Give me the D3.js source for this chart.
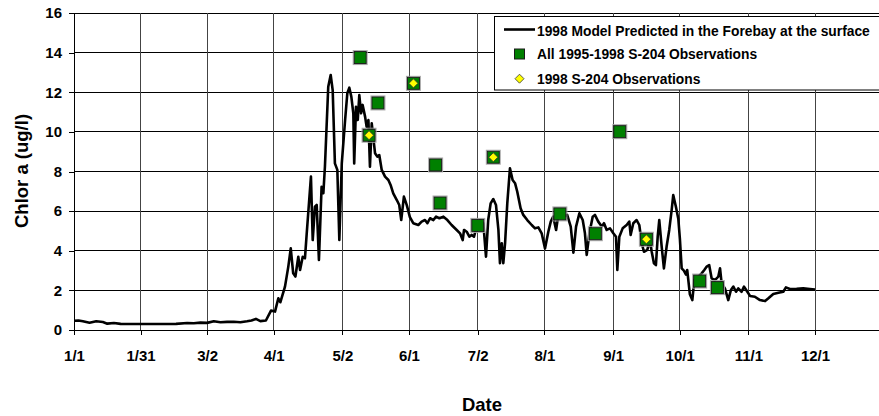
<!DOCTYPE html>
<html>
<head>
<meta charset="utf-8">
<script src="https://cdn.jsdelivr.net/npm/d3@7"></script>
<style>
  body { margin: 0; background: #fff; }
  svg { display: block; font-family: Arial, "Liberation Sans", sans-serif; font-weight: bold; }
</style>
</head>
<body>
<svg id="chart"></svg>
<script>
// model series: day counted from 1/1/1998 (day 0), chlor a in ug/l
const modelDay = [0, 2, 4, 7, 10, 13, 15, 18, 21, 26, 31, 36, 41, 46, 51, 54, 57, 60, 63, 66, 69, 72, 75, 78, 80, 82, 84, 86.5,
  88.8, 90.6, 92.1, 93, 95.1, 96.6, 97.7, 98.8, 99.8, 101.1, 101.9, 103.1, 104.1, 104.9, 106.8, 107.6, 108.6, 109.4, 110.4,
  111.6, 112.4, 113.1, 114.6, 115.7, 116.6, 117.6, 118.7, 119.6, 120.7, 122.2, 123.2, 124.1, 125, 125.9, 126.3, 127.1, 127.9,
  128.6, 129.4, 130.1, 131.2, 131.9, 132.7, 133.4, 134.2, 135.7, 136.7, 137.6, 138.7, 140.2, 141.7, 142.7, 143.9, 145.5,
  146.6, 147.5, 148.7, 150, 151.4, 152.9, 155.2, 156.7, 158.2, 159.3, 160.5, 162, 163.2, 164.7, 166.5, 168.3, 170.2, 172.5,
  174, 175.2, 175.8, 177, 178.2, 179.3, 180.3, 181.5, 183, 184.5, 185.7, 186.7, 187.8, 189, 190.2, 191.3, 192, 192.8, 193.5,
  194.3, 195.3, 196.5, 197.7, 198.8, 199.8, 201.3, 202.5, 204.3, 206.3, 207.8, 209.3, 210.8, 212.3, 213.8, 214.9, 216, 217.3,
  218.3, 220.6, 222.3, 223.9, 225.1, 226.3, 227.8, 229.3, 230.3, 231.1, 232.3, 233.8, 234.8, 236.3, 237.9, 238.9, 240.1,
  241.6, 243.1, 244.3, 244.9, 245.8, 247.3, 249.1, 250.3, 250.9, 252.1, 253.6, 254.8, 255.9, 256.9, 258.4, 259.6, 260.4,
  261.4, 262.3, 263.1, 263.8, 264.9, 265.9, 267.1, 268.3, 269.4, 270.1, 271.3, 272.4, 273.1, 273.9, 274.9, 275.8, 276.4,
  277.6, 278.7, 279.6, 281.4, 282.9, 284.1, 285.2, 286.3, 287.4, 288.9, 290.4, 291.2, 291.9, 293.4, 294.9, 296.1, 297.2,
  298.4, 299.4, 300.9, 302, 303.5, 304.7, 306.9, 309.2, 311.5, 313, 315.2, 317.5, 319.7, 320.9, 322.7, 325.7, 328.7, 331.7, 334];
const modelChl = [0.47, 0.48, 0.44, 0.37, 0.44, 0.40, 0.32, 0.35, 0.31, 0.30, 0.30, 0.30, 0.30, 0.31, 0.35, 0.34, 0.37, 0.36,
  0.44, 0.39, 0.41, 0.42, 0.39, 0.44, 0.48, 0.56, 0.45, 0.48,
  0.98, 0.93, 1.6, 1.4, 2.19, 3.2, 4.12, 2.86, 2.7, 3.7, 3.03, 3.7, 3.62, 4.88, 7.74, 4.54, 6.22, 6.31, 3.53,
  7.23, 6.9, 8.24, 12.28, 12.87, 12.11, 8.41, 8.08, 4.54, 8.41, 10.6, 11.95, 12.23, 11.78, 10.94, 8.41, 11.27, 10.6,
  11.86, 10.94, 11.36, 10.77, 10.26, 10.6, 8.24, 10.43, 8.92, 8.75, 8.83, 8.08, 7.74, 7.57, 7.32, 6.9, 6.56,
  6.31, 5.55, 6.73, 6.3, 5.7, 5.39, 5.3, 5.47, 5.55, 5.39, 5.64, 5.55, 5.72, 5.64, 5.72, 5.55, 5.3, 5.05,
  4.88, 4.54, 5.05, 4.96, 4.71, 4.8, 4.71, 5.22, 5.55, 5.39, 3.7, 5.55, 6.39, 6.61, 6.31, 5.05, 3.37, 4.38, 3.37,
  4.38, 6.39, 8.16, 7.57, 7.41, 6.98, 6.14, 5.81, 5.55, 5.3, 5.13, 5.18, 4.88, 4.12, 4.96, 5.47, 5.72, 5.05,
  5.81, 5.72, 5.81, 5.22, 3.9, 5.22, 5.89, 5.55, 4.88, 3.79, 4.88, 5.72, 5.81, 5.47, 5.22, 5.39, 5.05,
  5.13, 4.88, 4.71, 3.03, 4.71, 5.13, 5.3, 5.47, 4.8, 5.39, 5.55, 5.3, 4.38, 3.95, 4.04, 4.54, 3.95,
  3.37, 3.28, 4.71, 5.55, 4.2, 3.11, 4.2, 5.05, 6.06, 6.81, 6.22, 5.6, 4.6, 3.11, 3.0, 2.8, 3.03,
  1.8, 1.51, 2.52, 2.69, 2.86, 3.03, 3.2, 3.28, 2.61, 2.52, 2.69, 3.11, 2.36, 2.1, 1.51, 2.02, 2.19,
  1.93, 2.1, 1.93, 2.19, 1.93, 1.72, 1.68, 1.51, 1.46, 1.6, 1.82, 1.88, 1.93, 2.15, 2.07, 2.08, 2.1, 2.07, 2.04];

// all 1995-1998 S-204 observations (plotted on the 1998 calendar)
const obsDates = ["1998-05-10", "1998-05-14", "1998-05-18", "1998-06-03", "1998-06-13", "1998-06-15", "1998-07-02",
  "1998-07-09", "1998-08-08", "1998-08-24", "1998-09-04", "1998-09-16", "1998-10-10", "1998-10-18"];
const obsChl = [13.75, 9.83, 11.46, 12.45, 8.33, 6.41, 5.28, 8.72, 5.86, 4.86, 10.01, 4.58, 2.47, 2.14];

// 1998 S-204 observations
const obs98Dates = ["1998-05-14", "1998-06-03", "1998-07-09", "1998-09-16"];
const obs98Chl = [9.83, 12.45, 8.72, 4.58];

const tickDates = ["1998-01-01", "1998-01-31", "1998-03-02", "1998-04-01", "1998-05-02", "1998-06-01",
  "1998-07-02", "1998-08-01", "1998-09-01", "1998-10-01", "1998-11-01", "1998-12-01"];
const yTicks = [0, 2, 4, 6, 8, 10, 12, 14, 16];
const legendLabels = ["1998 Model Predicted in the Forebay at the surface",
  "All 1995-1998 S-204 Observations", "1998 S-204 Observations"];

const parse = d3.timeParse("%Y-%m-%d");
const start = parse("1998-01-01");
const dayToDate = d => new Date(+start + d * 864e5);

const width = 879, height = 416;
const plotLeft = 74, plotRight = 879, plotTop = 13, plotBottom = 330;

const x = d3.scaleTime([start, parse("1998-12-01")], [plotLeft, 815]);
const y = d3.scaleLinear([0, 16], [plotBottom, plotTop]);

const svg = d3.select("#chart")
    .attr("width", width)
    .attr("height", height)
    .attr("viewBox", [0, 0, width, height]);

// grid
const grid = svg.append("g")
    .attr("stroke", "#000")
    .attr("stroke-width", 1)
    .attr("shape-rendering", "crispEdges");
grid.selectAll("line.h")
  .data(yTicks.slice(1))
  .join("line")
    .attr("class", "h")
    .attr("x1", plotLeft).attr("x2", plotRight)
    .attr("y1", d => y(d)).attr("y2", d => y(d));
grid.selectAll("line.v")
  .data(tickDates.slice(1).map(parse))
  .join("line")
    .attr("class", "v")
    .attr("stroke", "#444")
    .attr("x1", d => x(d)).attr("x2", d => x(d))
    .attr("y1", plotTop).attr("y2", plotBottom);

// axes
const yAxis = d3.axisLeft(y).tickValues(yTicks).tickSize(5).tickSizeOuter(0).tickPadding(7);
const xAxis = d3.axisBottom(x).tickValues(tickDates.map(parse)).tickSize(5).tickSizeOuter(0)
    .tickPadding(15).tickFormat(d3.timeFormat("%-m/%-d"));

svg.append("g")
    .attr("transform", `translate(${plotLeft},0)`)
    .call(yAxis)
    .call(g => g.selectAll("text").attr("font-size", 15).attr("font-weight", "bold")
        .attr("font-family", "Arial, 'Liberation Sans', sans-serif").attr("fill", "#000"))
    .call(g => g.selectAll("line, path").attr("stroke", "#000").attr("shape-rendering", "crispEdges"));

svg.append("g")
    .attr("transform", `translate(0,${plotBottom})`)
    .call(xAxis)
    .call(g => g.select(".domain").attr("d", `M${plotLeft},0.5H${plotRight}`))
    .call(g => g.selectAll("text").attr("font-size", 15).attr("font-weight", "bold")
        .attr("font-family", "Arial, 'Liberation Sans', sans-serif").attr("fill", "#000"))
    .call(g => g.selectAll("line, path").attr("stroke", "#000").attr("shape-rendering", "crispEdges"));

// axis titles
svg.append("text")
    .attr("transform", "translate(28,171) rotate(-90)")
    .attr("text-anchor", "middle")
    .attr("font-size", 18.5)
    .text("Chlor a (ug/l)");
svg.append("text")
    .attr("x", 482).attr("y", 410.5)
    .attr("text-anchor", "middle")
    .attr("font-size", 18.5)
    .text("Date");

// model line
const line = d3.line()
    .x((d, i) => x(dayToDate(modelDay[i])))
    .y(d => y(d));
svg.append("path")
    .attr("d", line(modelChl))
    .attr("fill", "none")
    .attr("stroke", "#000")
    .attr("stroke-width", 2.6)
    .attr("stroke-linejoin", "round");

// observation squares
const sq = 12;
const obs = svg.append("g");
obs.selectAll("rect.halo")
  .data(obsChl)
  .join("rect")
    .attr("class", "halo")
    .attr("x", (d, i) => x(parse(obsDates[i])) - sq / 2 - 1)
    .attr("y", d => y(d) - sq / 2 - 1)
    .attr("width", sq + 2).attr("height", sq + 2)
    .attr("fill", "none").attr("stroke", "#aaa").attr("stroke-width", 1);
obs.selectAll("rect.mark")
  .data(obsChl)
  .join("rect")
    .attr("class", "mark")
    .attr("x", (d, i) => x(parse(obsDates[i])) - sq / 2)
    .attr("y", d => y(d) - sq / 2)
    .attr("width", sq).attr("height", sq)
    .attr("fill", "#008000").attr("stroke", "#1a1a1a").attr("stroke-width", 1);

// 1998 diamonds
const diamond = r => `M0,${-r}L${r},0L0,${r}L${-r},0Z`;
svg.append("g")
  .selectAll("path")
  .data(obs98Chl)
  .join("path")
    .attr("transform", (d, i) => `translate(${x(parse(obs98Dates[i]))},${y(d)})`)
    .attr("d", diamond(4.5))
    .attr("fill", "#ffff00").attr("stroke", "#333").attr("stroke-width", 0.8);

// legend
const legend = svg.append("g").attr("font-size", 13.8);
legend.append("rect")
    .attr("x", 494.5).attr("y", 16.5)
    .attr("width", 400).attr("height", 73.5)
    .attr("fill", "#fff").attr("stroke", "#000").attr("stroke-width", 1);
const rowY = [31, 54, 78.7];
legend.append("line")
    .attr("x1", 504).attr("x2", 535)
    .attr("y1", 29.5).attr("y2", 29.5)
    .attr("stroke", "#000").attr("stroke-width", 2.6);
legend.append("rect")
    .attr("x", 514.5).attr("y", rowY[1] - 5)
    .attr("width", 10).attr("height", 10)
    .attr("fill", "#008000").attr("stroke", "#1a1a1a").attr("stroke-width", 1);
legend.append("path")
    .attr("transform", `translate(519.5,${rowY[2]})`)
    .attr("d", diamond(4.5))
    .attr("fill", "#ffff00").attr("stroke", "#333").attr("stroke-width", 0.8);
legend.selectAll("text")
  .data(legendLabels)
  .join("text")
    .attr("x", 537)
    .attr("y", (d, i) => rowY[i])
    .attr("dy", "0.35em")
    .text(d => d);
</script>
</body>
</html>
